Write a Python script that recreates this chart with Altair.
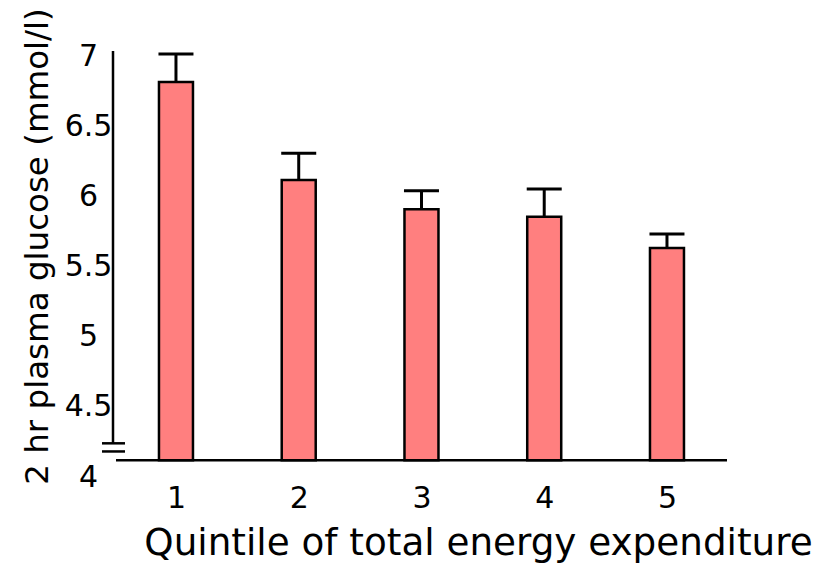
import altair as alt
import pandas as pd

quintile = [1, 2, 3, 4, 5]
mean_glucose = [6.815, 6.116, 5.908, 5.855, 5.632]
upper_error = [7.014, 6.307, 6.040, 6.052, 5.732]
y_ticks = [4, 4.5, 5, 5.5, 6, 6.5, 7]

df = pd.DataFrame({"quintile": quintile, "mean": mean_glucose, "upper": upper_error})

FONT = "DejaVu Sans"
BASE = 4.12

xscale = alt.Scale(domain=[0.487, 5.489], nice=False, zero=False, padding=0)
yscale = alt.Scale(domain=[4, 7], nice=False, zero=False, padding=0)

x_enc = alt.X(
    "quintile:Q",
    scale=xscale,
    axis=alt.Axis(
        values=quintile, format="d", domain=False, ticks=False, tickSize=0, grid=False,
        labelFont=FONT, labelFontSize=30, labelColor="black", labelPadding=6,
        title="Quintile of total energy expenditure", titleFont=FONT,
        titleFontSize=37.3, titleFontWeight="normal", titleColor="black",
        titleX=365, titleY=77, titleAlign="center", titleBaseline="alphabetic",
    ),
)
y_enc = alt.Y(
    "mean:Q",
    scale=yscale,
    axis=alt.Axis(
        values=y_ticks, format="~g", domain=False, ticks=False, tickSize=0, grid=False,
        labelFont=FONT, labelFontSize=30, labelColor="black", labelAlign="center",
        labelBaseline="middle", labelPadding=25,
        title="2 hr plasma glucose (mmol/l)", titleFont=FONT, titleFontSize=32.5,
        titleFontWeight="normal", titleColor="black", titleX=-66, titleY=190,
        titleAlign="center", titleBaseline="alphabetic", titleAngle=270,
    ),
)

base = alt.Chart(df)

bars = base.mark_bar(width=34, fill="#FF7F7F", stroke="black", strokeWidth=2.5).encode(
    x=x_enc, y=y_enc, y2=alt.datum(BASE)
)
err = base.mark_rule(color="black", strokeWidth=3).encode(
    x="quintile:Q", y="mean:Q", y2="upper:Q"
)
cap = base.mark_tick(orient="horizontal", size=35, thickness=3, color="black", opacity=1).encode(
    x="quintile:Q", y="upper:Q"
)
xline = alt.Chart(pd.DataFrame({"v": [BASE]})).mark_rule(color="black", strokeWidth=2.5).encode(
    y=alt.Y("v:Q", scale=yscale), x=alt.value(3), x2=alt.value(614)
)
yline = alt.Chart(pd.DataFrame({"a": [4.24], "b": [7.036]})).mark_rule(color="black", strokeWidth=2.5).encode(
    x=alt.value(0), y=alt.Y("a:Q", scale=yscale), y2="b:Q"
)
brk = alt.Chart(pd.DataFrame({"v": [4.24, 4.182]})).mark_rule(color="black", strokeWidth=2.5).encode(
    y=alt.Y("v:Q", scale=yscale), x=alt.value(-11), x2=alt.value(12)
)

chart = alt.layer(bars, err, cap, xline, yline, brk).properties(
    width=614, height=421,
    autosize=alt.AutoSizeParams(type="none"),
    padding={"left": 105, "top": 48, "right": 90, "bottom": 87},
    background="white",
).configure_view(strokeWidth=0, strokeOpacity=0)

chart.save("out.html", embed_options={"renderer": "svg", "actions": False})
